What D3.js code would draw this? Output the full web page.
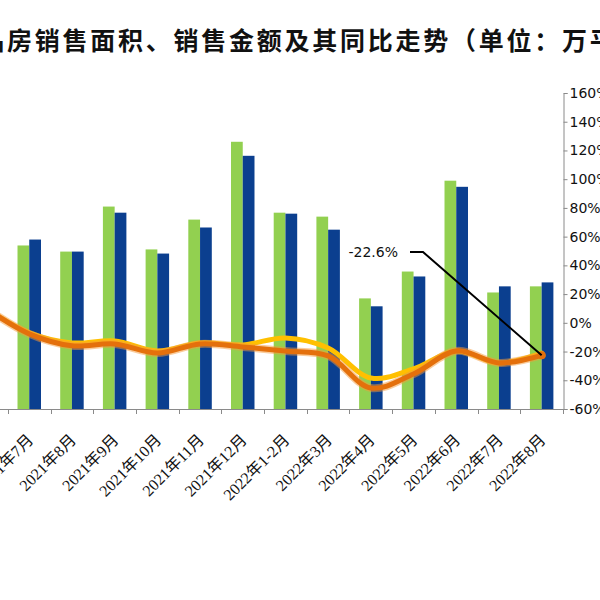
<!DOCTYPE html>
<html>
<head>
<meta charset="utf-8">
<script src="https://cdn.jsdelivr.net/npm/d3@7"></script>
<style>
  body { margin: 0; background: #fff; }
  svg { display: block; }
</style>
</head>
<body>
<div id="chart"></div>
<script>
// months shown (2021年6月 sits mostly off the left edge, as in the source crop)
const months = ["2021年6月", "2021年7月", "2021年8月", "2021年9月", "2021年10月", "2021年11月",
  "2021年12月", "2022年1-2月", "2022年3月", "2022年4月", "2022年5月", "2022年6月",
  "2022年7月", "2022年8月"];

// sales area / sales amount (bars, left scale)
const areaVals = [14130, 8280, 7970, 10250, 8080, 9590, 13530, 9940, 9740, 5600, 6960, 11560, 5900, 6210];
const amountVals = [14280, 8580, 7970, 9940, 7870, 9190, 12820, 9890, 9080, 5200, 6710, 11250, 6210, 6410];

// year-on-year growth, % (lines, right scale)
const areaYoY = [9.8, -7.7, -16, -14.7, -21, -14.7, -16.8, -19.6, -23, -45.4, -35.6, -19.6, -27.9, -22.6];
const amountYoY = [10, -7, -14, -12.6, -19.6, -14, -15.4, -10.5, -17.5, -38.4, -32, -19.6, -28, -21];

const rightTicks = [160, 140, 120, 100, 80, 60, 40, 20, 0, -20, -40, -60];

const title = "全国商品房销售面积、销售金额及其同比走势（单位：万平方米、亿元）";
const noteText = "-22.6%";

const W = 600, H = 600;
const plotRight = 563, plotBottom = 409, plotTop = 93;

let svg = d3.select("#chart")
    .append("svg")
    .attr("width", W)
    .attr("height", H);

// title, cropped on both sides like the source
svg.append("text")
    .attr("x", 7 - 4 * 27.75)
    .attr("y", 50)
    .style("font-family", "'Noto Sans CJK SC'")
    .style("font-size", "25px")
    .style("font-weight", "bold")
    .style("letter-spacing", "2.75px")
    .style("fill", "#111")
    .text(title);

let x = d3.scaleBand()
    .domain(months)
    .range([plotRight - months.length * 42.7, plotRight])
    .paddingInner(0.45)
    .paddingOuter(0.225);

let step = x.step();

let x1 = d3.scaleBand()
    .domain(["area", "amount"])
    .range([0, x.bandwidth()]);

let yL = d3.scaleLinear()
    .domain([0, 16000])
    .range([plotBottom, plotTop]);

let yR = d3.scaleLinear()
    .domain([-60, 160])
    .range([plotBottom, plotTop]);

// bars
let groups = svg.append("g")
    .selectAll("g")
    .data(months)
    .join("g")
    .attr("transform", d => "translate(" + x(d) + ",0)");

groups.append("rect")
    .attr("x", x1("area"))
    .attr("width", x1.bandwidth())
    .attr("y", (d, i) => yL(areaVals[i]))
    .attr("height", (d, i) => plotBottom - yL(areaVals[i]))
    .style("fill", "#92D050");

groups.append("rect")
    .attr("x", x1("amount"))
    .attr("width", x1.bandwidth())
    .attr("y", (d, i) => yL(amountVals[i]))
    .attr("height", (d, i) => plotBottom - yL(amountVals[i]))
    .style("fill", "#0B3F8F");

// x axis with ticks between categories
let xAxisG = svg.append("g");
xAxisG.append("line")
    .attr("x1", x.range()[0]).attr("x2", plotRight)
    .attr("y1", plotBottom + 0.5).attr("y2", plotBottom + 0.5)
    .style("stroke", "#8a8a8a");

let tickXs = months.map(m => x(m) - step * x.paddingInner() / 2).concat([plotRight]);
xAxisG.selectAll(".xt")
    .data(tickXs)
    .join("line")
    .attr("class", "xt")
    .attr("x1", d => Math.round(d) + 0.5).attr("x2", d => Math.round(d) + 0.5)
    .attr("y1", plotBottom).attr("y2", plotBottom + 5)
    .style("stroke", "#8a8a8a");

xAxisG.selectAll(".xl")
    .data(months)
    .join("text")
    .attr("class", "xl")
    .attr("transform", d => "translate(" + (x(d) + x.bandwidth() / 2 + 5) + "," + 441 + ") rotate(-45)")
    .attr("text-anchor", "end")
    .style("font-family", "'Liberation Serif', 'Noto Sans CJK SC'")
    .style("font-size", "16px")
    .style("fill", "#111")
    .text(d => d);

// right axis
let rAxis = d3.axisRight(yR)
    .tickValues(rightTicks)
    .tickSize(4)
    .tickPadding(2)
    .tickFormat(d => d + "%");

let rG = svg.append("g")
    .attr("transform", "translate(" + (plotRight + 0.5) + ",0)")
    .call(rAxis);
rG.select(".domain").style("stroke", "#8a8a8a");
rG.selectAll(".tick line").style("stroke", "#8a8a8a");
rG.selectAll("text")
    .style("font-family", "'DejaVu Sans'")
    .style("font-size", "14px")
    .style("fill", "#111");

// YoY lines
let cx = (d, i) => x(months[i]) + x.bandwidth() / 2;
let line = d3.line()
    .x(cx)
    .y(d => yR(d))
    .curve(d3.curveCatmullRom.alpha(0.5));

svg.append("path")
    .attr("d", line(amountYoY))
    .style("fill", "none")
    .style("stroke", "#FFC000")
    .style("stroke-width", 5)
    .style("stroke-linecap", "round");

svg.append("path")
    .attr("d", line(areaYoY))
    .style("fill", "none")
    .style("stroke", "#F59A3A")
    .style("stroke-opacity", 0.5)
    .style("stroke-width", 8)
    .style("stroke-linecap", "round");

svg.append("path")
    .attr("d", line(areaYoY))
    .style("fill", "none")
    .style("stroke", "#E4700C")
    .style("stroke-width", 5)
    .style("stroke-linecap", "round");

let last = areaYoY.length - 1;
svg.append("circle")
    .attr("cx", cx(null, last))
    .attr("cy", yR(areaYoY[last]))
    .attr("r", 4)
    .style("fill", "#E4700C");

// callout for the latest value
let ex = cx(null, last), ey = yR(areaYoY[last]);
svg.append("path")
    .attr("d", d3.line()([[410, 252], [423, 252], [ex, ey]]))
    .style("fill", "none")
    .style("stroke", "#000")
    .style("stroke-width", 2);

svg.append("text")
    .attr("x", 398)
    .attr("y", 257)
    .attr("text-anchor", "end")
    .style("font-family", "'DejaVu Sans'")
    .style("font-size", "14px")
    .style("fill", "#111")
    .text(noteText);
</script>
</body>
</html>
